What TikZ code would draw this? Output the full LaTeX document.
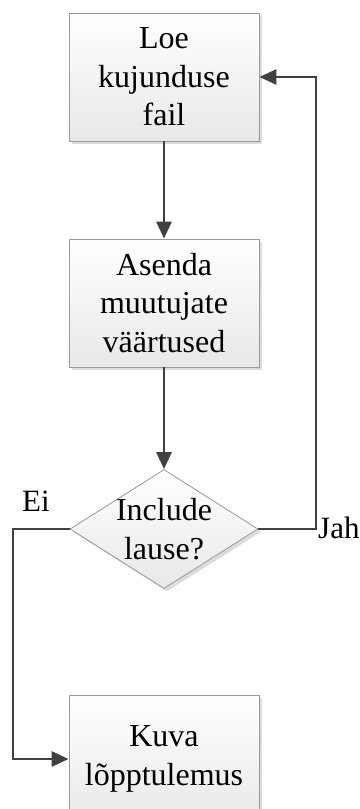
\documentclass[tikz,border=0pt]{standalone}
\usepackage{fontspec}
\setmainfont{Liberation Serif}
\usetikzlibrary{arrows.meta,shapes.geometric,shadows}
\definecolor{cLine}{HTML}{404040}
\definecolor{cEdge}{HTML}{9A9A9A}
\definecolor{cShd}{HTML}{DCDCDC}
\definecolor{cFill}{HTML}{E8E8E8}

\begin{document}
\begin{tikzpicture}[x=1pt, y=-1pt, >={Triangle[length=17pt,width=15pt]},
  font=\fontsize{32}{38.5}\selectfont,
  blk/.style={draw=cEdge, line width=0.8pt, top color=white, bottom color=cFill, minimum width=190pt, minimum height=128pt, inner sep=0pt, align=center, drop shadow={shadow xshift=3pt, shadow yshift=-3pt, fill=cShd, opacity=1}},
  dec/.style={diamond, draw=cEdge, line width=0.8pt, top color=white, bottom color=cFill, minimum width=188pt, minimum height=119pt, inner sep=0pt, drop shadow={shadow xshift=3pt, shadow yshift=-3pt, fill=cShd, opacity=1}},
  ln/.style={draw=cLine, line width=2.8pt},
  lbl/.style={font=\fontsize{31}{36}\selectfont, inner sep=0pt}]
\useasboundingbox (0,0) rectangle (359,809);
\node[blk] (loe) at (164,77) {Loe\\kujunduse\\fail};
\node[blk] (asenda) at (164,303) {Asenda\\muutujate\\väärtused};
\node[dec, label={[align=center]center:Include\\lause?}] (incl) at (164,529) {};
\node[blk] (kuva) at (164,759) {Kuva\\lõpptulemus};
\coordinate (vasak) at (13,529);
\coordinate (parem) at (316,529);
\draw[ln,->] (loe) -- (asenda);
\draw[ln,->] (asenda) -- (incl);
\draw[ln,->] (incl.west) -- (vasak) |- (kuva.west);
\draw[ln,->] (incl.east) -- (parem) |- (loe.east);
\node[lbl, anchor=base] (ei) at (36,511) {Ei};
\node[lbl, anchor=base west] (jah) at (318,538) {Jah};
\end{tikzpicture}
\end{document}
